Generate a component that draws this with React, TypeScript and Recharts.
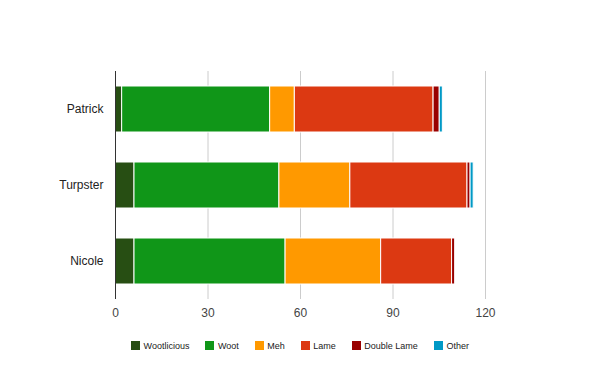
import React from 'react';
import { BarChart, Bar, XAxis, YAxis, CartesianGrid } from 'recharts';

const people = ['Patrick', 'Turpster', 'Nicole'];
const seriesNames = ['Wootlicious', 'Woot', 'Meh', 'Lame', 'Double Lame', 'Other'];
const wootlicious = [2, 6, 6];
const woot = [48, 47, 49];
const meh = [8, 23, 31];
const lame = [45, 38, 23];
const doubleLame = [2, 1, 1];
const other = [1, 1, 0];
const xTicks = [0, 30, 60, 90, 120];
const colors = ['#274e13', '#109618', '#ff9900', '#dc3912', '#990000', '#0099c6'];

const seriesValues = [wootlicious, woot, meh, lame, doubleLame, other];

const data = people.map((name, i) => {
  const row: Record<string, string | number> = { name };
  seriesNames.forEach((s, j) => {
    row[s] = seriesValues[j][i];
  });
  return row;
});

const FONT = '"Liberation Sans", Arial, sans-serif';

export default function App() {
  return (
    <div style={{ position: 'absolute', left: 0, top: 0, width: 600, height: 371, background: '#fff' }}>
      <BarChart
        width={600}
        height={371}
        data={data}
        layout="vertical"
        margin={{ top: 71, right: 114.5, bottom: 42, left: 0.5 }}
        barSize={46}
      >
        <CartesianGrid horizontal={false} stroke="#cccccc" />
        <XAxis
          type="number"
          domain={[0, 120]}
          ticks={xTicks}
          axisLine={false}
          tickLine={false}
          tickMargin={3}
          height={30}
          tick={{ fontSize: 12, fill: '#444', fontFamily: FONT }}
        />
        <YAxis
          type="category"
          dataKey="name"
          width={115}
          axisLine={{ stroke: '#333' }}
          tickLine={false}
          tickMargin={6}
          tick={{ fontSize: 12, fill: '#222', fontFamily: FONT }}
        />
        {seriesNames.map((s, j) => (
          <Bar
            key={s}
            dataKey={s}
            stackId="a"
            fill={colors[j]}
            stroke="#ffffff"
            strokeWidth={1}
            isAnimationActive={false}
          />
        ))}
      </BarChart>
      <div
        style={{
          position: 'absolute',
          top: 338,
          left: 0,
          width: 600,
          display: 'flex',
          justifyContent: 'center',
          alignItems: 'center',
          gap: 16,
          fontFamily: FONT,
          fontSize: 9,
          color: '#222',
          height: 15,
        }}
      >
        {seriesNames.map((s, j) => (
          <div key={s} style={{ display: 'flex', alignItems: 'center' }}>
            <div style={{ width: 9, height: 9, background: colors[j], marginRight: 3.5 }} />
            <span style={{ whiteSpace: 'nowrap' }}>{s}</span>
          </div>
        ))}
      </div>
    </div>
  );
}
